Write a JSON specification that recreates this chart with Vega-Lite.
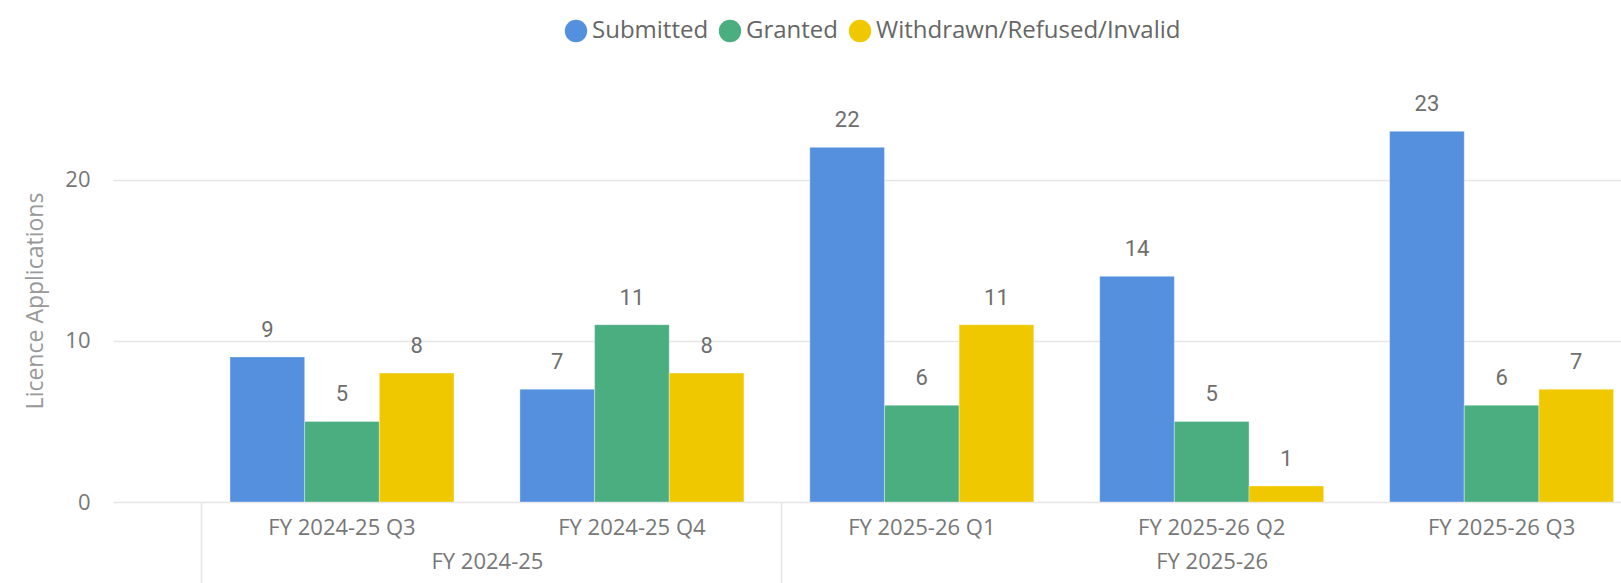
{
  "$schema": "https://vega.github.io/schema/vega-lite/v6.json",
  "width": 1508,
  "height": 403,
  "autosize": {"type": "none"},
  "padding": {"left": 113, "top": 99, "right": 0, "bottom": 81},
  "background": "#ffffff",
  "data": {
    "values": [
      {"quarter": "FY 2024-25 Q3", "fy": "FY 2024-25", "series": "Submitted", "value": 9},
      {"quarter": "FY 2024-25 Q3", "fy": "FY 2024-25", "series": "Granted", "value": 5},
      {"quarter": "FY 2024-25 Q3", "fy": "FY 2024-25", "series": "Withdrawn/Refused/Invalid", "value": 8},
      {"quarter": "FY 2024-25 Q4", "fy": "FY 2024-25", "series": "Submitted", "value": 7},
      {"quarter": "FY 2024-25 Q4", "fy": "FY 2024-25", "series": "Granted", "value": 11},
      {"quarter": "FY 2024-25 Q4", "fy": "FY 2024-25", "series": "Withdrawn/Refused/Invalid", "value": 8},
      {"quarter": "FY 2025-26 Q1", "fy": "FY 2025-26", "series": "Submitted", "value": 22},
      {"quarter": "FY 2025-26 Q1", "fy": "FY 2025-26", "series": "Granted", "value": 6},
      {"quarter": "FY 2025-26 Q1", "fy": "FY 2025-26", "series": "Withdrawn/Refused/Invalid", "value": 11},
      {"quarter": "FY 2025-26 Q2", "fy": "FY 2025-26", "series": "Submitted", "value": 14},
      {"quarter": "FY 2025-26 Q2", "fy": "FY 2025-26", "series": "Granted", "value": 5},
      {"quarter": "FY 2025-26 Q2", "fy": "FY 2025-26", "series": "Withdrawn/Refused/Invalid", "value": 1},
      {"quarter": "FY 2025-26 Q3", "fy": "FY 2025-26", "series": "Submitted", "value": 23},
      {"quarter": "FY 2025-26 Q3", "fy": "FY 2025-26", "series": "Granted", "value": 6},
      {"quarter": "FY 2025-26 Q3", "fy": "FY 2025-26", "series": "Withdrawn/Refused/Invalid", "value": 7}
    ]
  },
  "layer": [
    {
      "mark": {"type": "bar", "stroke": "#ffffff", "strokeOpacity": 0.35, "strokeWidth": 1},
      "encoding": {
        "x": {
          "field": "quarter", "type": "nominal", "sort": null,
          "scale": {"paddingInner": 0.2273, "paddingOuter": 0.2146, "align": 0.9405},
          "axis": {
            "title": null, "labelAngle": 0, "ticks": false, "domain": false, "grid": false,
            "labelFont": "Open Sans", "labelFontSize": 22, "labelColor": "#777777",
            "labelPadding": 15, "labelOverlap": false
          }
        },
        "xOffset": {
          "field": "series", "type": "nominal",
          "sort": ["Submitted", "Granted", "Withdrawn/Refused/Invalid"],
          "scale": {"paddingInner": 0, "paddingOuter": 0}
        },
        "y": {
          "field": "value", "type": "quantitative",
          "scale": {"domain": [0, 25], "nice": false},
          "axis": {
            "values": [0, 10, 20], "title": "Licence Applications",
            "titleFont": "Open Sans", "titleFontSize": 23, "titleFontWeight": "normal",
            "titleColor": "#999999", "titlePadding": 17,
            "labelFont": "Open Sans", "labelFontSize": 22, "labelColor": "#777777",
            "domain": false, "ticks": false, "labelPadding": 23,
            "gridColor": "#e6e6e6", "gridWidth": 1.5
          }
        },
        "color": {
          "field": "series", "type": "nominal",
          "scale": {
            "domain": ["Submitted", "Granted", "Withdrawn/Refused/Invalid"],
            "range": ["#5590df", "#4aae80", "#f0c800"]
          },
          "legend": {
            "title": null, "orient": "none", "direction": "horizontal",
            "legendX": 451, "legendY": -80,
            "symbolType": "circle", "symbolSize": 500, "symbolStrokeWidth": 0, "symbolOpacity": 1,
            "labelFont": "Open Sans", "labelFontSize": 24, "labelColor": "#666666",
            "labelOffset": 4, "columnPadding": 9, "labelLimit": 0
          }
        }
      }
    },
    {
      "mark": {"type": "text", "font": "Roboto", "fontSize": 22, "color": "#6e6e6e", "baseline": "alphabetic", "dy": -20},
      "encoding": {
        "x": {"field": "quarter", "type": "nominal", "sort": null, "axis": null},
        "xOffset": {"field": "series", "type": "nominal", "sort": ["Submitted", "Granted", "Withdrawn/Refused/Invalid"]},
        "y": {"field": "value", "type": "quantitative"},
        "text": {"field": "value", "type": "quantitative"}
      }
    },
    {
      "mark": {"type": "point", "opacity": 0},
      "encoding": {
        "x": {
          "field": "quarter", "type": "nominal", "sort": null,
          "axis": {
            "title": null, "orient": "bottom", "labelAngle": 0, "domain": false, "grid": false,
            "bandPosition": 0, "tickOffset": -29,
            "tickSize": 81, "tickColor": "#e6e6e6", "tickWidth": 1.5,
            "tickOpacity": {"condition": {"test": "datum.value === 'FY 2024-25 Q3' || datum.value === 'FY 2025-26 Q1'", "value": 1}, "value": 0},
            "labelExpr": "datum.value === 'FY 2024-25 Q4' ? 'FY 2024-25' : (datum.value === 'FY 2025-26 Q2' ? 'FY 2025-26' : '')",
            "labelOffset": {"condition": {"test": "datum.value === 'FY 2024-25 Q4'", "value": -116}, "value": 29},
            "labelFont": "Open Sans", "labelFontSize": 22, "labelColor": "#777777",
            "labelPadding": -32, "labelOverlap": false
          }
        }
      }
    }
  ],
  "resolve": {"axis": {"x": "independent"}},
  "config": {"view": {"stroke": null}}
}
